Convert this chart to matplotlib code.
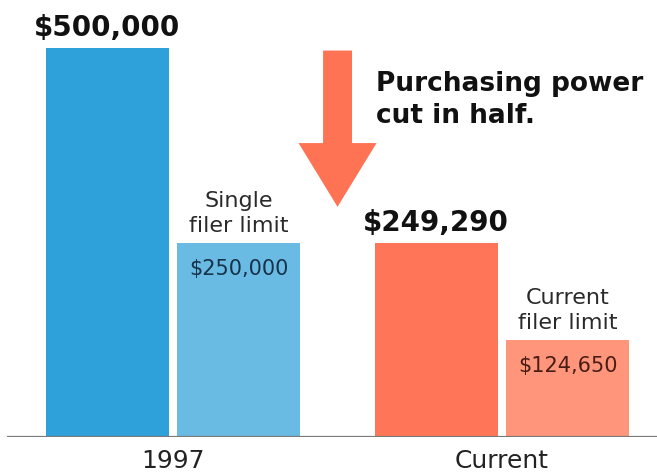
import matplotlib.pyplot as plt
from matplotlib.patches import FancyArrow

plt.rcParams['font.family'] = ['DejaVu Sans']

# values
groups = ['1997', 'Current']
limits = [500000, 249290]
single_limits = [250000, 124650]
headline_labels = ['$500,000', '$249,290']
inner_labels = ['$250,000', '$124,650']
side_notes = ['Single\nfiler limit', 'Current\nfiler limit']
caption = 'Purchasing power\ncut in half.'

main_colors = ['#2ea0da', '#ff7557']
side_colors = ['#69bbe3', '#ff957b']
inner_text_colors = ['#17324a', '#4a1d14']

fig = plt.figure(figsize=(6.57, 4.75), dpi=100)
ax = fig.add_axes([0, 0.08, 1, 0.92])
ax.set_xlim(-0.526, 1.471)
ax.set_ylim(0, 562000)
ax.axis('off')

offset = 0.2
width = 0.374
for i, g in enumerate(groups):
    ax.bar(i - offset, limits[i], width=width, color=main_colors[i], zorder=2)
    ax.bar(i + offset, single_limits[i], width=width, color=side_colors[i], zorder=2)
    # big value above the main bar
    ax.annotate(headline_labels[i], (i - offset, limits[i]), xytext=(0, 8.5),
                textcoords='offset points', ha='center', va='baseline',
                fontsize=20, fontweight='bold', color='#111111')
    # value inside the smaller bar
    ax.annotate(inner_labels[i], (i + offset, single_limits[i]), xytext=(0, -19),
                textcoords='offset points', ha='center', va='center',
                fontsize=15, color=inner_text_colors[i])
    # note above the smaller bar
    ax.annotate(side_notes[i], (i + offset, single_limits[i]), xytext=(0, 5),
                textcoords='offset points', ha='center', va='bottom',
                fontsize=16, color='#2a2a2a', linespacing=1.3)
    ax.annotate(g, (i, 0), xytext=(0, -8.5), textcoords='offset points',
                ha='center', va='top', fontsize=18, color='#222222')

# baseline
ax.axhline(0, xmin=0.012, xmax=1, color='#7a7a7a', lw=1.6, zorder=3)

# downward arrow between the two groups
arrow = FancyArrow(0.5, 497000, 0, -201000, width=0.088, head_width=0.237,
                   head_length=82000, length_includes_head=True,
                   color='#ff7355', lw=0, zorder=2)
ax.add_patch(arrow)

ax.text(0.617, 470700, caption, ha='left', va='top', fontsize=19,
        fontweight='bold', color='#111111', linespacing=1.3)

fig.savefig('out.png', dpi=100)
